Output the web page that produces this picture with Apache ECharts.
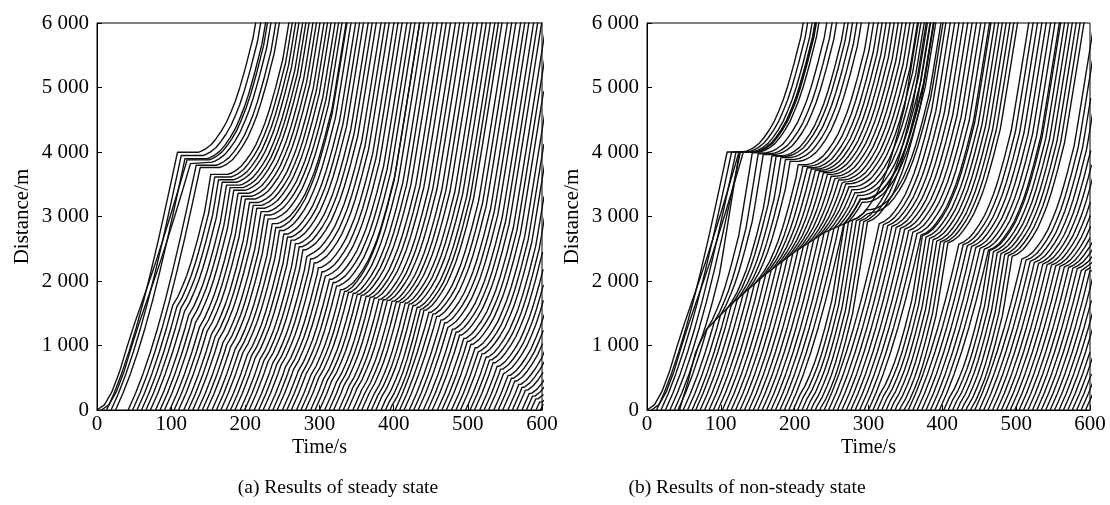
<!DOCTYPE html>
<html><head><meta charset="utf-8">
<script src="https://cdn.jsdelivr.net/npm/echarts@6/dist/echarts.min.js"></script>
<style>html,body{margin:0;padding:0;background:#fff;}#c{width:1110px;height:505px;}</style>
</head><body><div id="c"></div>
<script>
// ---------- tick labels ----------
const xTickValues = [0, 100, 200, 300, 400, 500, 600];
const yTickValues = [0, 1000, 2000, 3000, 4000, 5000, 6000];
const yTickLabels = ['0', '1 000', '2 000', '3 000', '4 000', '5 000', '6 000'];
const captions = ['(a) Results of steady state', '(b) Results of non-steady state'];

// ---------- motion profiles [s since start, m travelled] ----------
const launchRest = [[0,0],[10,80],[20,280],[30,580],[40,960],[50,1320],[60,1650],[70,1980],[80,2320],[90,2680],[100,3050],[110,3430],[120,3820],[130,4220],[140,4630],[150,5050],[160,5480],[170,5920],[180,6370]];
const launchFly = [[0,0],[10,260],[20,560],[30,900],[40,1280],[50,1700],[60,2160],[70,2650],[80,3170],[90,3700],[100,4240],[110,4790],[120,5340],[130,5890],[140,6440]];
const restartProfile = [[0,0],[5,3],[10,14],[14,31],[20,68],[27.5,135],[34,225],[41,341],[48,480],[54.5,651],[60,810],[65.8,1012],[70,1180],[74.7,1374],[79,1570],[83.8,1786],[86.9,1993],[95,2560],[105,3270],[115,3990],[130,5080],[145,6180]];

// ---------- panel (a) steady state ----------
const departA = [0,6,13,19,25,42,48,54,60,66,72,79,85,91,98,104,110,117,123,129,136,142,148,155,161,167,174,180,186,193,199,205,212,218,224,231,237,243,250,256,262,269,275,281,288,294,300,307,313,319,326,332,338,345,351,357,364,370,376,383,389,395,402,408,414,421,427,433,440,446,452,459,465,471,478,484,490,497,503,509,516,522,528,535,541,547,554,560,566,573,579,585,592,598];
const restLaunchA = [0, 6];
// kink chains: [time s, distance m, wait s]
const chainA1 = [[98,4000,28],[108,4000,28],[118,3900,30],[145,3720,25],[188,3380,15],[224,3050,9],[240,2840,6]];
const chainA2 = [[240,2840,6],[278,2480,4],[305,2120,3],[330,1850,3]];
const chainA3 = [[330,1850,3],[380,1720,3],[420,1650,3],[455,1480,3],[500,1060,3],[557,510,3],[597,120,3],[615,0,3]];
const chainA4 = [[101,1625,0],[114,1575,0],[139,1290,0],[179,980,0],[215,800,0],[260,650,0],[300,500,0],[350,330,0],[386,200,0],[402,0,0]];
const tauA = [10, 14, 20, 41];

// ---------- panel (b) non-steady state ----------
const departB = [0,6,13,19,25,31,37,42,49,55,61,66,72,78,84,90,96,102,108,114,120,126,132,138,144,150,156,162,168,174,180,186,192,198,204,210,216,222,228,234,240,246,252,258,264,270,276,282,288,294,300,306,312,318,324,330,336,342,348,354,360,366,372,378,384,390,396,402,408,414,420,426,432,438,444,450,456,462,468,474,480,486,492,498,504,510,516,522,528,534,540,546,552,558,564,570,576,582,588,594];
const restLaunchB = [0, 6];
// slow leading vehicle of panel (b) (the long diagonal line) [s, m]
const leaderB = [[44,0],[55,420],[66,900],[80,1240],[100,1480],[120,1700],[160,2100],[200,2450],[240,2750],[278,2943]];
const leaderWaitB = 1;
const chainB1 = [[98,4000,16],[112,4000,16],[125,3998,16],[140,3990,14],[179,3925,9],[206,3796,6],[242,3667,4],[269,3512,3],[287,3305,2],[300,3050,1]];
const chainB2 = [[66,900,0],[80,1240,0]];
const chainB3 = [[80,1240,0],[100,1480,0]];
const chainB4 = [[100,1480,0],[140,1900,0]];
const chainB5 = [[140,1900,0],[160,2100,0],[200,2450,0],[240,2750,0],[278,2943,0]];
const chainB6 = [[278,2943,1],[310,2900,1],[350,2800,1],[395,2608,1],[430,2560,1],[462,2479,1],[530,2272,1],[610,2150,1]];
const chainB7 = [[205,260,0],[240,0,0]];
const chainB8 = [[315,260,0],[350,0,0]];
const chainB9 = [[405,220,0],[440,0,0]];
const tauB = [0, 54.5, 41, 34, 27.5, 14, 41, 41, 41];

// ---------- trajectory construction ----------
function segInt(a, b, c, d) {
  const r1 = b[0]-a[0], r2 = b[1]-a[1], s1 = d[0]-c[0], s2 = d[1]-c[1];
  const den = r1*s2 - r2*s1;
  if (Math.abs(den) < 1e-12) return null;
  const u = ((c[0]-a[0])*s2 - (c[1]-a[1])*s1) / den;
  const v = ((c[0]-a[0])*r2 - (c[1]-a[1])*r1) / den;
  if (u < 0 || u > 1 || v < 0 || v > 1) return null;
  return {u: u, v: v, x: a[0]+u*r1, y: a[1]+u*r2};
}
function profileFrom(tau0) {
  const base = restartProfile.find(p => p[0] === tau0);
  return restartProfile.filter(p => p[0] >= tau0).map(p => [p[0]-base[0], p[1]-base[1]]);
}
function buildTrajectory(t0, launch, chains, taus) {
  const pts = [];
  let ot = t0, od = 0, prof = launch;
  for (let iter = 0; iter < 12; iter++) {
    let prev = [ot + prof[0][0], od + prof[0][1]];
    pts.push(prev);
    let hit = null;
    for (let k = 1; k < prof.length; k++) {
      const cur = [ot + prof[k][0], od + prof[k][1]];
      let best = null;
      chains.forEach((ch, ci) => {
        for (let j = 1; j < ch.length; j++) {
          const p = segInt(prev, cur, ch[j-1], ch[j]);
          if (!p) continue;
          if (k === 1 && p.u < 1e-3) continue;
          if (!best || p.u < best.u) { best = p; best.ci = ci; best.seg = j; }
        }
      });
      if (best) { hit = best; break; }
      pts.push(cur);
      prev = cur;
      if (cur[1] >= 6000 || cur[0] >= 600) return pts;
    }
    if (!hit) return pts;
    pts.push([hit.x, hit.y]);
    const ch = chains[hit.ci];
    const w = ch[hit.seg-1][2] + hit.v * (ch[hit.seg][2] - ch[hit.seg-1][2]);
    ot = hit.x + w; od = hit.y;
    prof = profileFrom(taus[hit.ci]);
    if (ot >= 600) { pts.push([600, od]); return pts; }
  }
  return pts;
}
const LINE = {color: '#111', width: 1.4};
function lineSeries(data, gi) {
  return {type: 'line', xAxisIndex: gi, yAxisIndex: gi, data: data,
    showSymbol: false, symbol: 'none', silent: true, animation: false, clip: true, lineStyle: LINE};
}
function buildPanel(departs, restSet, chains, taus, gi) {
  return departs.map(t0 => lineSeries(
    buildTrajectory(t0, restSet.includes(t0) ? launchRest : launchFly, chains, taus), gi));
}

const seriesA = buildPanel(departA, restLaunchA, [chainA1, chainA2, chainA3, chainA4], tauA, 0);
const seriesB = buildPanel(departB, restLaunchB, [chainB1, chainB2, chainB3, chainB4, chainB5, chainB6, chainB7, chainB8, chainB9], tauB, 1);
const leaderEnd = leaderB[leaderB.length - 1];
seriesB.push(lineSeries(leaderB.concat(profileFrom(14).map(p => [leaderEnd[0] + leaderWaitB + p[0], leaderEnd[1] + p[1]])), 1));

const FONT = 'Liberation Serif';
function xAxisDef(gi) {
  return {
    type: 'value', gridIndex: gi, min: 0, max: 600, interval: 100,
    axisLine: {show: true, lineStyle: {color: '#000', width: 1}},
    axisTick: {show: true, inside: true, length: 5, lineStyle: {color: '#000'}},
    splitLine: {show: false},
    axisLabel: {color: '#000', fontFamily: FONT, fontSize: 21, margin: 4},
    name: 'Time/s', nameLocation: 'middle', nameGap: 28, nameMoveOverlap: false,
    nameTextStyle: {color: '#000', fontFamily: FONT, fontSize: 20, verticalAlign: 'top'}
  };
}
function yAxisDef(gi) {
  return {
    type: 'value', gridIndex: gi, min: 0, max: 6000, interval: 1000,
    axisLine: {show: true, lineStyle: {color: '#000', width: 1}},
    axisTick: {show: true, inside: true, length: 5, lineStyle: {color: '#000'}},
    splitLine: {show: false},
    axisLabel: {color: '#000', fontFamily: FONT, fontSize: 21, margin: 8,
      formatter: v => yTickLabels[yTickValues.indexOf(v)]},
    name: 'Distance/m', nameLocation: 'middle', nameGap: 64, nameMoveOverlap: false,
    nameTextStyle: {color: '#000', fontFamily: FONT, fontSize: 21}
  };
}

const chart = echarts.init(document.getElementById('c'), null, {renderer: 'canvas'});
chart.setOption({
  animation: false,
  backgroundColor: '#fff',
  grid: [
    {left: 97, top: 23, width: 445, height: 387, show: true, borderColor: '#000', borderWidth: 1, backgroundColor: 'transparent'},
    {left: 647, top: 23, width: 443, height: 387, show: true, borderColor: '#000', borderWidth: 1, backgroundColor: 'transparent'}
  ],
  xAxis: [xAxisDef(0), xAxisDef(1)],
  yAxis: [yAxisDef(0), yAxisDef(1)],
  title: [
    {text: captions[0], left: 333, top: 473, textAlign: 'center', textStyle: {fontFamily: FONT, fontSize: 19.5, fontWeight: 'normal', color: '#000'}},
    {text: captions[1], left: 742, top: 473, textAlign: 'center', textStyle: {fontFamily: FONT, fontSize: 19.5, fontWeight: 'normal', color: '#000'}}
  ],
  series: seriesA.concat(seriesB)
});
</script></body></html>
